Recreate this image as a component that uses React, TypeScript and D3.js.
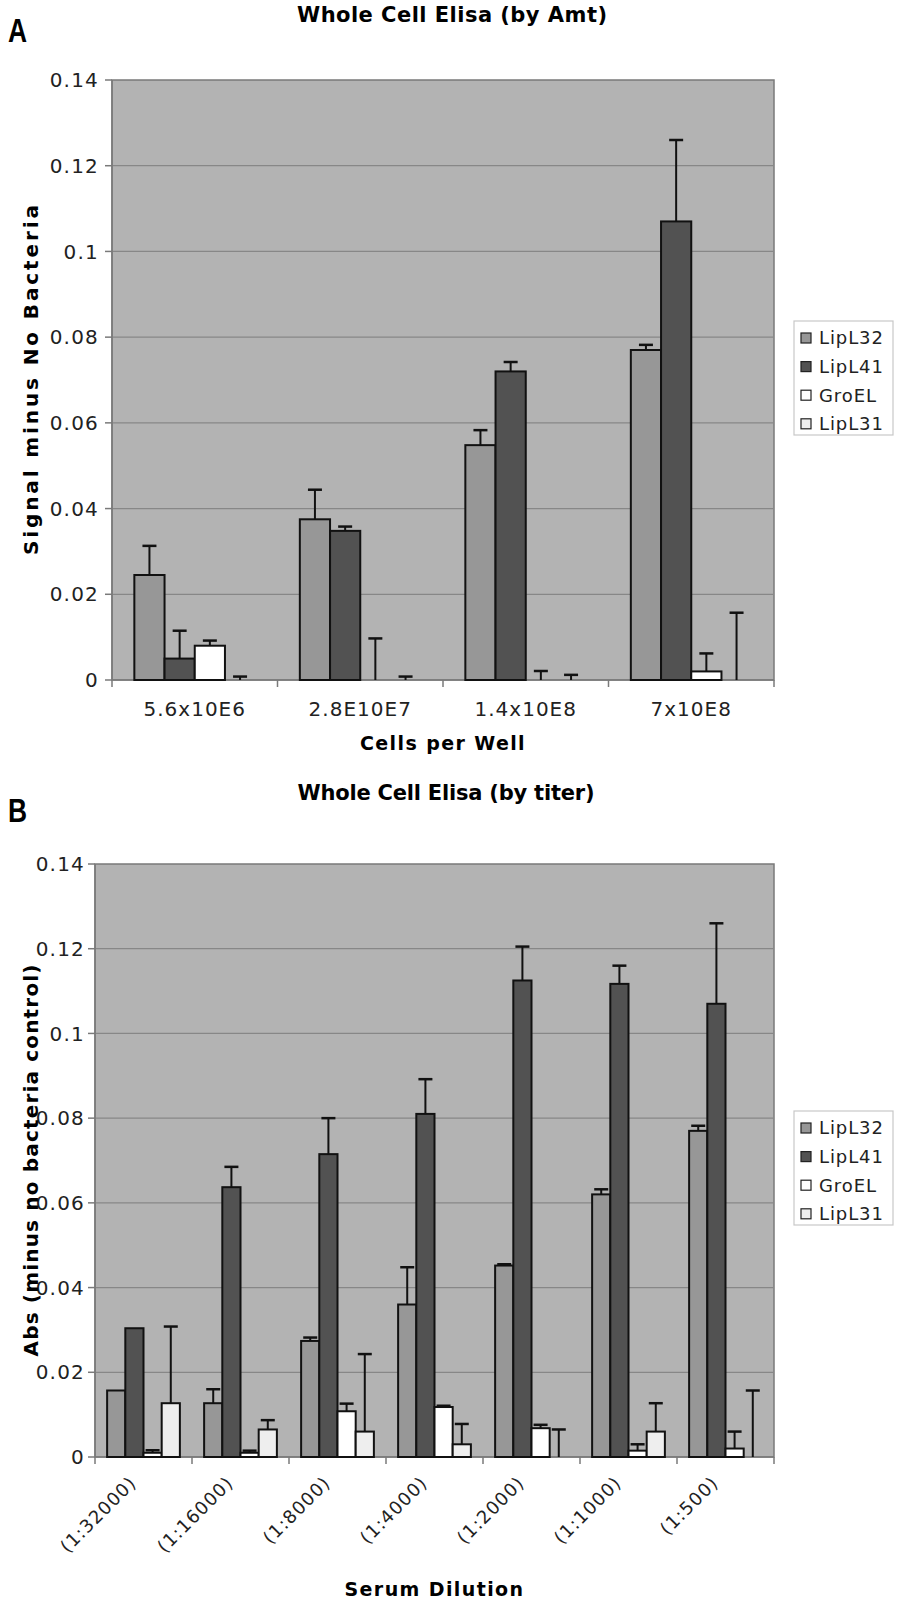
import React from 'react';
import * as d3 from 'd3';

// series
const seriesNames = ['LipL32', 'LipL41', 'GroEL', 'LipL31'];
const seriesFill: Record<string, string> = {
  LipL32: '#979797',
  LipL41: '#525252',
  GroEL: '#ffffff',
  LipL31: '#eeeeee',
};

// panel A - by amount
const amtCategories = ['5.6x10E6', '2.8E10E7', '1.4x10E8', '7x10E8'];
const amtLipL32 = [0.0245, 0.0375, 0.0548, 0.077];
const amtLipL41 = [0.005, 0.0348, 0.072, 0.107];
const amtGroEL = [0.008, 0, 0, 0.002];
const amtLipL31 = [0, 0, 0, 0];
const amtErrLipL32 = [0.0068, 0.0069, 0.0035, 0.0012];
const amtErrLipL41 = [0.0065, 0.001, 0.0022, 0.019];
const amtErrGroEL = [0.0012, 0.0097, 0.0021, 0.0042];
const amtErrLipL31 = [0.0008, 0.0008, 0.0012, 0.0157];

// panel B - by titer
const titerCategories = ['(1:32000)', '(1:16000)', '(1:8000)', '(1:4000)', '(1:2000)', '(1:1000)', '(1:500)'];
const titerLipL32 = [0.0157, 0.0127, 0.0274, 0.036, 0.0452, 0.062, 0.077];
const titerLipL41 = [0.0304, 0.0637, 0.0715, 0.081, 0.1125, 0.1117, 0.107];
const titerGroEL = [0.001, 0.001, 0.0108, 0.0118, 0.0068, 0.0015, 0.002];
const titerLipL31 = [0.0127, 0.0065, 0.006, 0.003, 0, 0.006, 0];
const titerErrLipL32 = [0, 0.0033, 0.0008, 0.0088, 0.0003, 0.0012, 0.0012];
const titerErrLipL41 = [0, 0.0048, 0.0085, 0.0082, 0.008, 0.0043, 0.019];
const titerErrGroEL = [0.0006, 0.0005, 0.0018, 0.0003, 0.0008, 0.0015, 0.004];
const titerErrLipL31 = [0.0181, 0.0022, 0.0183, 0.0048, 0.0065, 0.0067, 0.0157];

const yTicks = [0, 0.02, 0.04, 0.06, 0.08, 0.1, 0.12, 0.14];

const FONT = "'DejaVu Sans', Verdana, sans-serif";

interface PanelProps {
  letter: string;
  letterY: number;
  title: string;
  titleX: number;
  titleY: number;
  titleLen: number;
  yTitle: string;
  yTitleLen: number;
  xTitle: string;
  xTitleY: number;
  tickGap: number;
  categories: string[];
  values: number[][];
  errors: number[][];
  box: { x0: number; x1: number; y0: number; y1: number };
  groupFrac: number;
  rotated: boolean;
  legendY: number;
}

const Panel: React.FC<PanelProps> = (p) => {
  const { box } = p;
  const y = d3.scaleLinear().domain([0, 0.14]).range([box.y1, box.y0]);
  const x = d3.scaleBand<string>().domain(p.categories).range([box.x0, box.x1]).padding(0);
  const bw = x.bandwidth();
  const x1 = d3
    .scaleBand<string>()
    .domain(seriesNames)
    .range([(bw * (1 - p.groupFrac)) / 2, (bw * (1 + p.groupFrac)) / 2]);
  const fmt = (v: number) => (v === 0 ? '0' : String(+v.toFixed(2)));
  const midX = (box.x0 + box.x1) / 2;
  const midY = (box.y0 + box.y1) / 2;
  const capW = 14;
  const axisCol = '#7a7a7a';

  return (
    <g fontFamily={FONT}>
      <text
        transform={`translate(8,${p.letterY}) scale(0.8,1)`}
        fontSize={33}
        fontWeight="bold"
        fontFamily="'Liberation Sans', Arial, sans-serif"
      >
        {p.letter}
      </text>
      <text
        x={p.titleX}
        y={p.titleY}
        textAnchor="middle"
        fontSize={21}
        fontWeight="bold"
        textLength={p.titleLen}
        lengthAdjust="spacing"
      >
        {p.title}
      </text>

      {/* plot area */}
      <rect x={box.x0} y={box.y0} width={box.x1 - box.x0} height={box.y1 - box.y0} fill="#b3b3b3" stroke={axisCol} strokeWidth={1.5} />
      {yTicks.slice(1, -1).map((t) => (
        <line key={t} x1={box.x0} x2={box.x1} y1={y(t)} y2={y(t)} stroke="#878787" strokeWidth={1.3} />
      ))}

      {/* y axis */}
      <line x1={box.x0} x2={box.x0} y1={box.y0} y2={box.y1} stroke={axisCol} strokeWidth={1.5} />
      {yTicks.map((t) => (
        <g key={t}>
          <line x1={box.x0 - 7} x2={box.x0} y1={y(t)} y2={y(t)} stroke={axisCol} strokeWidth={1.5} />
          <text x={box.x0 - p.tickGap} y={y(t)} dy="0.36em" textAnchor="end" fontSize={20} letterSpacing={1.2} fill="#222">
            {fmt(t)}
          </text>
        </g>
      ))}

      {/* x axis */}
      <line x1={box.x0} x2={box.x1} y1={box.y1} y2={box.y1} stroke={axisCol} strokeWidth={1.5} />
      {p.categories.map((c, i) => (
        <line key={'tk' + i} x1={x(c)!} x2={x(c)!} y1={box.y1} y2={box.y1 + 7} stroke={axisCol} strokeWidth={1.5} />
      ))}
      <line x1={box.x1} x2={box.x1} y1={box.y1} y2={box.y1 + 7} stroke={axisCol} strokeWidth={1.5} />
      {p.categories.map((c, i) => {
        const cx = x(c)! + bw / 2;
        return p.rotated ? (
          <text
            key={'xl' + i}
            transform={`translate(${cx - 6},${box.y1 + 27}) rotate(-45)`}
            textAnchor="end"
            fontSize={18}
            letterSpacing={1.1}
            fill="#222"
          >
            {c}
          </text>
        ) : (
          <text key={'xl' + i} x={cx} y={box.y1 + 36} textAnchor="middle" fontSize={20} letterSpacing={1} fill="#222">
            {c}
          </text>
        );
      })}

      {/* bars and error bars */}
      {p.categories.map((c, i) => (
        <g key={'b' + i} transform={`translate(${x(c)},0)`}>
          {seriesNames.map((s, si) => {
            const v = p.values[si][i];
            const e = p.errors[si][i];
            const bx = x1(s)!;
            const w = x1.bandwidth();
            const mx = bx + w / 2;
            return (
              <g key={s}>
                {v > 0 && (
                  <rect x={bx} y={y(v)} width={w} height={y(0) - y(v)} fill={seriesFill[s]} stroke="#111" strokeWidth={2} />
                )}
                {e > 0 && (
                  <g stroke="#111">
                    <line x1={mx} x2={mx} y1={y(v)} y2={y(v + e)} strokeWidth={2} />
                    <line x1={mx - capW / 2} x2={mx + capW / 2} y1={y(v + e)} y2={y(v + e)} strokeWidth={2.5} />
                  </g>
                )}
              </g>
            );
          })}
        </g>
      ))}

      {/* axis titles */}
      <text x={midX} y={p.xTitleY} textAnchor="middle" fontSize={19} fontWeight="bold" letterSpacing={1.4}>
        {p.xTitle}
      </text>
      <text
        transform={`translate(38,${midY}) rotate(-90)`}
        textAnchor="middle"
        fontSize={20}
        fontWeight="bold"
        textLength={p.yTitleLen}
        lengthAdjust="spacing"
      >
        {p.yTitle}
      </text>

      {/* legend */}
      <g transform={`translate(794,${p.legendY})`}>
        <rect x={0} y={0} width={99} height={114} fill="#fff" stroke="#c8c8c8" strokeWidth={1.2} />
        {seriesNames.map((s, i) => (
          <g key={s} transform={`translate(0,${17 + i * 28.6})`}>
            <rect x={7} y={-5} width={10} height={10} fill={seriesFill[s]} stroke="#222" strokeWidth={1.2} />
            <text x={25} y={0} dy="0.36em" fontSize={18} letterSpacing={0.9} fill="#222">
              {s}
            </text>
          </g>
        ))}
      </g>
    </g>
  );
};

export default function App() {
  return (
    <svg width={897} height={1600} style={{ position: 'absolute', left: 0, top: 0, background: '#fff' }}>
      <Panel
        letter="A"
        letterY={42}
        title="Whole Cell Elisa (by Amt)"
        titleX={452}
        titleY={22}
        titleLen={310}
        yTitle="Signal minus No Bacteria"
        yTitleLen={350}
        xTitle="Cells per Well"
        xTitleY={750}
        tickGap={13}
        categories={amtCategories}
        values={[amtLipL32, amtLipL41, amtGroEL, amtLipL31]}
        errors={[amtErrLipL32, amtErrLipL41, amtErrGroEL, amtErrLipL31]}
        box={{ x0: 112, x1: 774, y0: 80, y1: 680 }}
        groupFrac={0.73}
        rotated={false}
        legendY={321}
      />
      <Panel
        letter="B"
        letterY={822}
        title="Whole Cell Elisa (by titer)"
        titleX={446}
        titleY={800}
        titleLen={297}
        yTitle="Abs (minus no bacteria control)"
        yTitleLen={392}
        xTitle="Serum Dilution"
        xTitleY={1596}
        tickGap={10}
        categories={titerCategories}
        values={[titerLipL32, titerLipL41, titerGroEL, titerLipL31]}
        errors={[titerErrLipL32, titerErrLipL41, titerErrGroEL, titerErrLipL31]}
        box={{ x0: 95, x1: 774, y0: 864, y1: 1457 }}
        groupFrac={0.75}
        rotated={true}
        legendY={1111}
      />
    </svg>
  );
}
